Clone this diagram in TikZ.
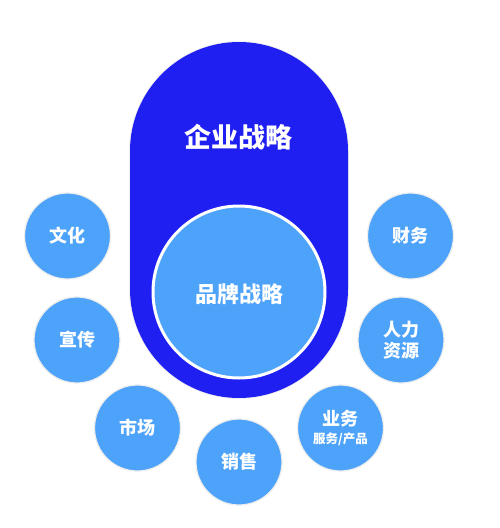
\documentclass[tikz,border=0pt]{standalone}
\usepackage{fontspec}
\setmainfont{Noto Sans CJK SC}
\definecolor{pillblue}{HTML}{1F1FF2}
\definecolor{satblue}{HTML}{4DA3FA}
\tikzset{
  sat/.style={circle, fill=satblue, draw=black!7, line width=1.2pt, minimum size=86pt, inner sep=0pt, text=white, font=\bfseries\fontsize{18}{21}\selectfont, align=center},
  lbl/.style={text=white, font=\bfseries, align=center, inner sep=0pt}
}
\begin{document}
\begin{tikzpicture}[x=1pt,y=-1pt]
\useasboundingbox[fill=white] (0,0) rectangle (500,528);
% pill
\fill[black!6] (129,151) arc[start angle=180,end angle=360,radius=110] -- (349,289) arc[start angle=0,end angle=180,radius=110] -- cycle;
\fill[pillblue] (130,151) arc[start angle=180,end angle=360,radius=109] -- (348,289) arc[start angle=0,end angle=180,radius=109] -- cycle;
\node[lbl, font=\bfseries\fontsize{27}{30}\selectfont] (corp) at (238,137) {企业战略};
\node[circle, fill=satblue, draw=white, line width=3pt, minimum size=172pt, inner sep=0pt] (brand) at (239,292) {};
\node[lbl, font=\bfseries\fontsize{22}{26}\selectfont] (brandtxt) at (239,294) {品牌战略};
% satellites
\node[sat] (wh) at (67.5,236) {文化};
\node[sat] (xc) at (77,340) {宣传};
\node[sat] (sc) at (137.5,428) {市场};
\node[sat] (xs) at (239,462) {销售};
\node[sat] (cw) at (410.5,236) {财务};
\node[sat] (rl) at (401,340) {人力\\资源};
\node[sat] (yw) at (340.5,428) {业务\\[-3pt]{\fontsize{12.5}{14}\selectfont 服务/产品}};
\end{tikzpicture}
\end{document}
